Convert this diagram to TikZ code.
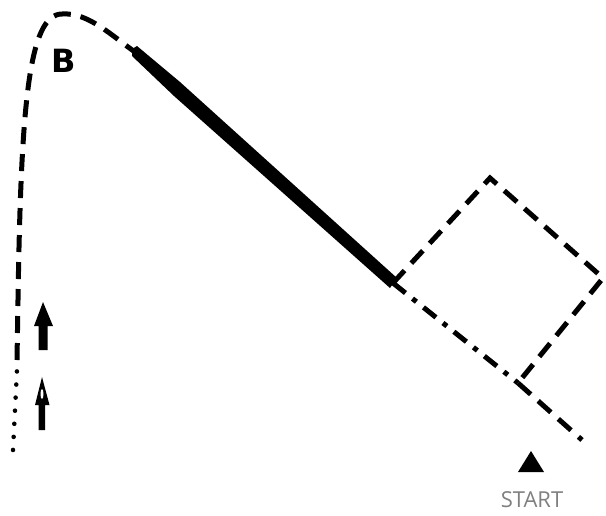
\documentclass[tikz,border=0pt]{standalone}
\usepackage{fontspec}
\setmainfont{Open Sans}
\newfontfamily\labelfont{DejaVu Sans}
\begin{document}
\begin{tikzpicture}[x=1pt,y=-1pt,
  dashline/.style={line width=5pt, dash pattern=on 17pt off 10pt},
  dotline/.style={line width=4.5pt, line cap=round, dash pattern=on 0.1pt off 13pt},
  dashdotline/.style={line width=5pt, dash pattern=on 16pt off 9pt on 5pt off 9pt}]
\useasboundingbox (0,0) rectangle (606,515);
\coordinate (bot) at (13,450);
\coordinate (dotend) at (17,370);
\coordinate (top) at (62,14);
\coordinate (thickstart) at (135,52);
\coordinate (sqA) at (393,283);
\coordinate (sqB) at (490,178);
\coordinate (sqC) at (603,278);
\coordinate (sqD) at (518,383);
\coordinate (lineend) at (582,440);
% dotted lower part
\draw[dotline] (bot) -- (dotend);
% dashed left climb and top curve
\draw[dashline] (17,360) -- (18,300) .. controls (21,110) and (28,14) .. (top) .. controls (88,12) and (112,36) .. (thickstart);
% thick tapered part
\fill (132,49) -- (137,46) -- (180,82) -- (397,278) -- (390,288) -- (174,96) -- (132,56) -- cycle;
% dash-dot to square corner
\draw[dashdotline] (sqA) -- (sqD);
\draw[dashline] (sqD) -- (lineend);
% square
\draw[dashline] (sqA) -- (sqB) -- (sqC) -- (sqD);
% label B
\node[font=\labelfont\bfseries\fontsize{32}{34}\selectfont, inner sep=0pt] (B) at (64,61) {B};
% arrows
\fill (43,302) -- (53,326) -- (47.5,326) -- (47.5,350) -- (38.5,350) -- (38.5,326) -- (34,326) -- cycle;
\fill (42,377) -- (49.5,405) -- (45,405) -- (45,430) -- (38.5,430) -- (38.5,405) -- (35,405) -- cycle;
\fill[white] (42,394) ellipse (1.5pt and 5pt);
% start
\fill (531,451) -- (544,472) -- (518,472) -- cycle;
\node[text=gray, font=\fontsize{22}{24}\selectfont] (start) at (532,500) {START};
\end{tikzpicture}
\end{document}
